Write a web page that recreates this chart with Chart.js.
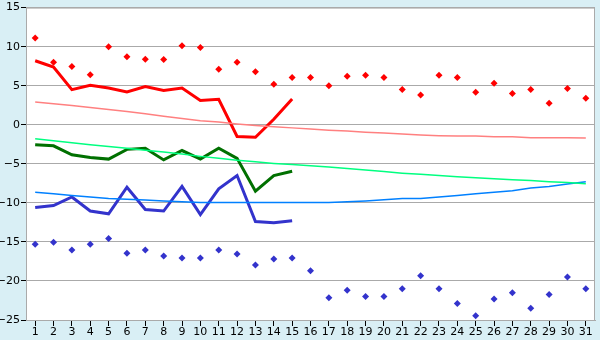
<!DOCTYPE html>
<html>
<head>
<meta charset="utf-8">
<script src="https://cdn.jsdelivr.net/npm/chart.js@4"></script>
<style>
  html, body { margin: 0; padding: 0; background: #d9eff5; }
  #wrap { width: 600px; height: 340px; }
</style>
</head>
<body>
<div id="wrap"><canvas id="myChart" width="600" height="340"></canvas></div>
<script>
const days = ["1","2","3","4","5","6","7","8","9","10","11","12","13","14","15","16",
  "17","18","19","20","21","22","23","24","25","26","27","28","29","30","31"];

// daily extremes (points)
const maxPoints = [11.1, 8.0, 7.45, 6.4, 10.0, 8.7, 8.4, 8.35, 10.1, 9.9, 7.1, 8.0, 6.8, 5.2, 6.05,
  6.05, 5.0, 6.2, 6.35, 6.05, 4.5, 3.8, 6.35, 6.05, 4.15, 5.3, 4.0, 4.5, 2.75, 4.65, 3.4];
const minPoints = [-15.3, -15.05, -16.05, -15.3, -14.55, -16.45, -16.05, -16.8, -17.05, -17.05, -16.05,
  -16.55, -17.95, -17.2, -17.05, -18.7, -22.15, -21.2, -22.0, -22.0, -21.0, -19.35, -21.0, -22.9,
  -24.45, -22.3, -21.5, -23.5, -21.75, -19.5, -21.0];

// observed series (first half of the month)
const maxLine = [8.2, 7.4, 4.5, 5.05, 4.7, 4.2, 4.9, 4.4, 4.7, 3.1, 3.25, -1.5, -1.6, 0.7, 3.3];
const meanLine = [-2.55, -2.7, -3.85, -4.2, -4.4, -3.15, -3.0, -4.5, -3.3, -4.4, -3.0, -4.3, -8.5, -6.5, -5.95];
const minLine = [-10.6, -10.35, -9.25, -11.05, -11.4, -8.0, -10.85, -11.05, -7.9, -11.5, -8.2, -6.5,
  -12.4, -12.55, -12.3];

// normals
const normMax = [2.9, 2.7, 2.45, 2.2, 1.95, 1.7, 1.4, 1.1, 0.8, 0.5, 0.35, 0.1, -0.1, -0.25, -0.4,
  -0.55, -0.7, -0.8, -0.95, -1.05, -1.2, -1.3, -1.4, -1.45, -1.45, -1.55, -1.55, -1.65, -1.65, -1.65, -1.7];
const normMean = [-1.8, -2.05, -2.3, -2.55, -2.8, -3.0, -3.25, -3.5, -3.75, -4.05, -4.3, -4.55, -4.75,
  -4.95, -5.1, -5.25, -5.4, -5.6, -5.8, -6.0, -6.2, -6.35, -6.5, -6.65, -6.8, -6.9, -7.05, -7.15,
  -7.3, -7.4, -7.55];
const normMin = [-8.65, -8.85, -9.05, -9.25, -9.45, -9.55, -9.65, -9.75, -9.85, -9.95, -9.95, -9.95,
  -9.95, -9.95, -9.95, -9.95, -9.95, -9.85, -9.75, -9.6, -9.45, -9.45, -9.25, -9.05, -8.85, -8.65,
  -8.45, -8.1, -7.9, -7.6, -7.3];

const yTicks = [15, 10, 5, 0, -5, -10, -15, -20, -25];

const plotFrame = {
  id: 'plotFrame',
  beforeDraw(chart) {
    const c = chart.ctx, a = chart.chartArea;
    c.save();
    c.fillStyle = '#d9eff5';
    c.fillRect(0, 0, chart.width, chart.height);
    c.fillStyle = '#ffffff';
    c.fillRect(a.left, a.top, a.right - a.left, a.bottom - a.top);
    c.restore();
  },
  afterDraw(chart) {
    const c = chart.ctx, a = chart.chartArea;
    c.save();
    c.strokeStyle = '#aaaaaa';
    c.lineWidth = 1;
    c.strokeRect(a.left + 0.5, a.top + 0.5, a.right - a.left - 1, a.bottom - a.top);
    c.restore();
  }
};

const thin = (data, color) => ({
  data: data, borderColor: color, backgroundColor: color, borderWidth: 1.5,
  pointRadius: 0, tension: 0, fill: false
});
const thick = (data, color) => ({
  data: data, borderColor: color, backgroundColor: color, borderWidth: 3,
  pointRadius: 0, tension: 0, fill: false
});
const dots = (data, color) => ({
  data: data, borderColor: color, backgroundColor: color, showLine: false,
  pointStyle: 'rectRot', pointRadius: 3.5, pointBorderWidth: 0
});

const ctx = document.getElementById('myChart').getContext('2d');
const myChart = new Chart(ctx, {
  type: 'line',
  data: {
    labels: days,
    datasets: [
      thin(normMax, '#ff8080'),
      thin(normMean, '#00ff80'),
      thin(normMin, '#0080ff'),
      thick(maxLine, '#ff0000'),
      thick(meanLine, '#007000'),
      thick(minLine, '#3333cc'),
      dots(maxPoints, '#ff0000'),
      dots(minPoints, '#3333cc')
    ]
  },
  options: {
    responsive: false,
    animation: false,
    layout: { padding: { top: 5, right: 5, left: 0, bottom: 0 } },
    plugins: { legend: { display: false }, tooltip: { enabled: false } },
    scales: {
      x: {
        offset: true,
        grid: { drawOnChartArea: false, drawTicks: true, tickLength: 6, color: '#000000', offset: false },
        border: { display: true, color: '#aaaaaa' },
        ticks: { color: '#000', font: { family: 'DejaVu Sans', size: 11 }, padding: 0, maxRotation: 0, autoSkip: false },
        afterFit(scale) { scale.height = 20; }
      },
      y: {
        min: -25, max: 15,
        afterBuildTicks(scale) { scale.ticks = yTicks.map(v => ({ value: v })); },
        grid: { color: '#aaaaaa', tickLength: 5, tickColor: '#000000' },
        border: { display: true, color: '#aaaaaa' },
        ticks: {
          color: '#000', font: { family: 'DejaVu Sans', size: 11 }, padding: 1,
          callback: v => String(v).replace('-', '\u2212')
        },
        afterFit(scale) { scale.width = 26; }
      }
    }
  },
  plugins: [plotFrame]
});
</script>
</body>
</html>
